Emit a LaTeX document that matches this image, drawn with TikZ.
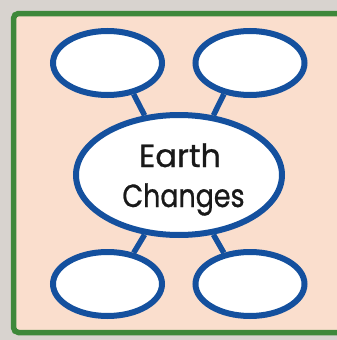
\documentclass[tikz,border=0pt]{standalone}
\usepackage{fontspec}
\setmainfont{Poppins}
\newfontfamily\wordfont{Poppins}[FakeBold=0.9]
\usetikzlibrary{shapes.geometric}
\definecolor{bggray}{RGB}{216,211,207}
\definecolor{peach}{RGB}{250,222,205}
\definecolor{framegreen}{RGB}{62,136,58}
\definecolor{bubbleblue}{RGB}{20,80,158}
\tikzset{
  bubble/.style={ellipse, draw=bubbleblue, fill=white, line width=6pt, inner sep=0pt},
  small/.style={bubble, minimum width=109pt, minimum height=64pt},
  link/.style={draw=bubbleblue, line width=5.5pt},
  word/.style={anchor=base, inner sep=0pt, text=black!90, font=\wordfont\fontsize{32}{38}\selectfont}
}
\begin{document}
\begin{tikzpicture}[x=1pt,y=-1pt]
\useasboundingbox (0,0) rectangle (337,340);
\clip (0,0) rectangle (337,340);
\fill[bggray] (0,0) rectangle (337,340);
\draw[framegreen, fill=peach, line width=5.5pt, rounded corners=5pt] (13.5,13.5) rectangle (350,332.5);
\node[small] (tl) at (107.5,63) {};
\node[small] (tr) at (250,63) {};
\node[small] (bl) at (107.5,284) {};
\node[small] (br) at (250,284) {};
\node[bubble, minimum width=206pt, minimum height=120pt] (c) at (179,175) {};
\node[word] (t1) at (180,167) {Earth};
\node[word] (t2) at (183.5,207) {\scalebox{0.84}[1]{Changes}};
\draw[link] (tl.-50) -- (c.120);
\draw[link] (tr.-130) -- (c.60);
\draw[link] (bl.50) -- (c.-120);
\draw[link] (br.130) -- (c.-60);
\end{tikzpicture}
\end{document}
